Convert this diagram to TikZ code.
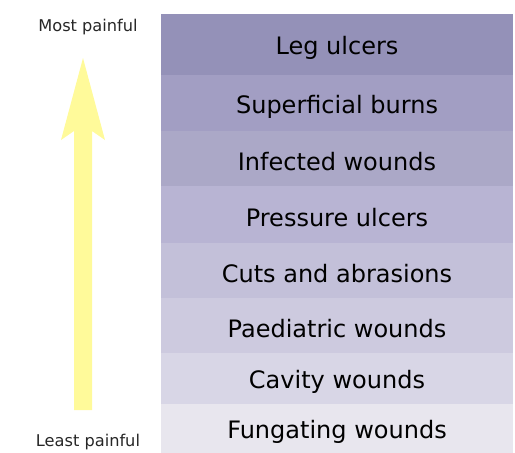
\documentclass[tikz,border=0pt]{standalone}
\usepackage{fontspec}
\setmainfont{DejaVu Sans}
\definecolor{paincolA}{HTML}{9491B8}
\definecolor{paincolB}{HTML}{A29EC3}
\definecolor{paincolC}{HTML}{ABA8C7}
\definecolor{paincolD}{HTML}{B8B4D3}
\definecolor{paincolE}{HTML}{C3C0D9}
\definecolor{paincolF}{HTML}{CDCADF}
\definecolor{paincolG}{HTML}{D8D6E6}
\definecolor{paincolH}{HTML}{E8E6EE}
\definecolor{arrowyellow}{HTML}{FFFA9A}

\begin{document}
\begin{tikzpicture}[x=1pt, y=-1pt,
  row/.style={inner sep=0pt, font=\fontsize{24}{27}\selectfont},
  endlabel/.style={inner sep=0pt, font=\fontsize{16.2}{19}\selectfont, text=black!85}]
  \useasboundingbox (0,0) rectangle (515,453);

  % rows, most painful on top
  \foreach \top/\bot/\col/\txt/\nm in {
      14/75/paincolA/Leg ulcers/leg,
      75/131/paincolB/Superficial burns/burns,
      131/186/paincolC/Infected wounds/infected,
      186/243/paincolD/Pressure ulcers/pressure,
      243/298/paincolE/Cuts and abrasions/cuts,
      298/353/paincolF/Paediatric wounds/paed,
      353/404/paincolG/Cavity wounds/cavity,
      404/453/paincolH/Fungating wounds/fung}{
    \fill[\col] (161,\top) rectangle (513,\bot);
    \node[row] (\nm) at (337,{(\top+\bot)/2+3.5}) {\txt};
  }

  \node[endlabel] (most) at (88,27) {Most painful};
  \node[endlabel] (least) at (88,442) {Least painful};

  % arrow
  \fill[arrowyellow] (74,410) -- (74,131) -- (61,140) -- (83,58)
    -- (105,140) -- (92,131) -- (92,410) -- cycle;
\end{tikzpicture}
\end{document}
